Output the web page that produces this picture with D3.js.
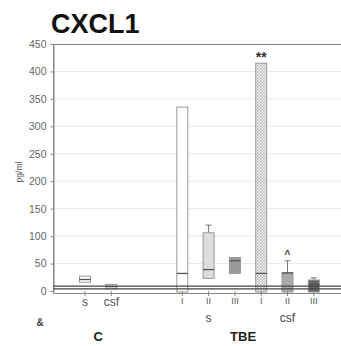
<!DOCTYPE html>
<html>
<head>
<meta charset="utf-8">
<script src="https://cdn.jsdelivr.net/npm/d3@7"></script>
<style>
  body { margin: 0; background: #fff; }
  text { font-family: "Liberation Sans", Arial, sans-serif; }
</style>
</head>
<body>
<svg id="chart"></svg>
<script>
// CXCL1 boxes, C = controls, TBE = patients (serum / csf, stages I-III)
const labels = ["s", "csf", "I", "II", "III", "I", "II", "III"];
const boxTop = [27, 12, 335, 106, 61, 415, 33, 20];
const boxBottom = [16, 4, 0, 23, 32, 0, 0, 0];
const medians = [21, 8, 32, 39, 55, 32, 33, 12];
const whiskerTop = [27, 12, 335, 120, 61, 415, 55, 24];
const yTicks = [0, 50, 100, 150, 200, 250, 300, 350, 400, 450];
const limitValues = [9, 4];
const fills = ["#fff", "#fff", "#fff", "#ddd", "#999", "url(#hatch)", "#aaa", "#666"];
const marks = ["", "", "", "", "", "**", "^", ""];
const subLabels = [{ text: "s", at: 3 }, { text: "csf", at: 6 }];
const groupLabels = [{ text: "C", from: 0, to: 1 }, { text: "TBE", from: 2, to: 7 }];

function drawChart () {
  const svg = d3.select("#chart").attr("width", 341).attr("height", 346);

  // hatch for the TBE I csf bar
  const pat = svg.append("defs").append("pattern")
    .attr("id", "hatch").attr("patternUnits", "userSpaceOnUse")
    .attr("width", 3).attr("height", 3);
  pat.append("rect").attr("width", 3).attr("height", 3).attr("fill", "#f2f2f2");
  pat.append("path").attr("d", "M0,3L3,0M0,0L3,3").attr("stroke", "#aaa").attr("stroke-width", 0.6);

  const y = d3.scaleLinear().domain([0, 450]).range([291, 44]);
  // C and TBE blocks are separated by a gap of 1.7 slots
  const slot = d3.scaleLinear().domain([0, 1]).range([85, 111.3]);
  const x = i => slot(i < 2 ? i : i + 1.7);
  const bw = 11;

  svg.append("text").attr("x", 51).attr("y", 33)
    .attr("font-size", 27).attr("font-weight", "bold").attr("fill", "#111")
    .text("CXCL1");

  // grid
  svg.append("g").selectAll("line").data(yTicks.slice(1)).enter().append("line")
    .attr("x1", 53).attr("x2", 345)
    .attr("y1", d => y(d)).attr("y2", d => y(d))
    .attr("stroke", "#e8e8e8").attr("stroke-width", 1);

  svg.append("rect").attr("x", 53.5).attr("y", y(450) + 0.5)
    .attr("width", 300).attr("height", y(0) - y(450) + 2)
    .attr("fill", "none").attr("stroke", "#888");

  const yAxis = d3.axisLeft(y).tickValues(yTicks).tickSize(3).tickPadding(4);
  const ga = svg.append("g").attr("transform", "translate(53.5,0)").call(yAxis);
  ga.select(".domain").attr("stroke", "#888");
  ga.selectAll(".tick line").attr("stroke", "#888");
  ga.selectAll("text").attr("font-size", 10.5).attr("fill", "#666")
    .style("font-family", "'Liberation Sans', sans-serif");

  svg.append("text").attr("transform", "translate(22,172) rotate(-90)")
    .attr("text-anchor", "middle").attr("font-size", 8.5).attr("fill", "#555")
    .text("pg/ml");

  const idx = d3.range(labels.length);
  const g = svg.append("g");

  // whiskers
  g.selectAll("line.wh").data(idx).enter().append("line")
    .attr("x1", i => x(i)).attr("x2", i => x(i))
    .attr("y1", i => y(whiskerTop[i])).attr("y2", i => y(boxTop[i]))
    .attr("stroke", "#777");
  g.selectAll("line.cap").data(idx.filter(i => whiskerTop[i] > boxTop[i])).enter().append("line")
    .attr("x1", i => x(i) - 3).attr("x2", i => x(i) + 3)
    .attr("y1", i => y(whiskerTop[i])).attr("y2", i => y(whiskerTop[i]))
    .attr("stroke", "#777");

  // boxes
  g.selectAll("rect.box").data(idx).enter().append("rect")
    .attr("x", i => x(i) - bw / 2).attr("width", bw)
    .attr("y", i => y(boxTop[i]))
    .attr("height", i => y(boxBottom[i]) - y(boxTop[i]) + (boxBottom[i] === 0 ? 1 : 0))
    .attr("fill", i => fills[i]).attr("stroke", "#999").attr("stroke-width", 1);

  // medians
  g.selectAll("line.med").data(idx).enter().append("line")
    .attr("x1", i => x(i) - bw / 2).attr("x2", i => x(i) + bw / 2)
    .attr("y1", i => y(medians[i])).attr("y2", i => y(medians[i]))
    .attr("stroke", "#555").attr("stroke-width", 1.3);

  // double baseline
  svg.append("g").selectAll("line").data(limitValues).enter().append("line")
    .attr("x1", 53).attr("x2", 345)
    .attr("y1", d => y(d)).attr("y2", d => y(d))
    .attr("stroke", "#444").attr("stroke-width", 1.2);

  // x ticks
  g.selectAll("line.xt").data(idx).enter().append("line")
    .attr("x1", i => x(i)).attr("x2", i => x(i))
    .attr("y1", y(0)).attr("y2", y(0) + 5)
    .attr("stroke", "#888");

  // significance marks
  g.selectAll("text.mk").data(idx.filter(i => marks[i])).enter().append("text")
    .attr("x", i => x(i)).attr("y", i => marks[i] === "**" ? y(whiskerTop[i]) - 1 : y(whiskerTop[i]) - 3)
    .attr("text-anchor", "middle").attr("font-weight", "bold")
    .attr("font-size", i => marks[i] === "**" ? 14 : 10).attr("fill", "#333")
    .text(i => marks[i]);

  g.selectAll("text.lb").data(idx).enter().append("text")
    .attr("x", i => x(i)).attr("y", i => i < 2 ? 306 : 304)
    .attr("text-anchor", "middle").attr("font-size", i => i < 2 ? 12 : 9)
    .attr("fill", "#555").text(i => labels[i]);

  svg.selectAll("text.sub").data(subLabels).enter().append("text")
    .attr("x", d => x(d.at)).attr("y", 322)
    .attr("text-anchor", "middle").attr("font-size", 12).attr("fill", "#444")
    .text(d => d.text);

  svg.selectAll("text.grp").data(groupLabels).enter().append("text")
    .attr("x", d => d.text === "C" ? (x(d.from) + x(d.to)) / 2 : (x(d.from) + x(d.to)) / 2 - 5)
    .attr("y", 341)
    .attr("text-anchor", "middle").attr("font-size", 13).attr("font-weight", "bold").attr("fill", "#222")
    .text(d => d.text);

  svg.append("text").attr("x", 40).attr("y", 326).attr("text-anchor", "middle")
    .attr("font-size", 10).attr("font-weight", "bold").attr("fill", "#444").text("&");
}

drawChart();
</script>
</body>
</html>
